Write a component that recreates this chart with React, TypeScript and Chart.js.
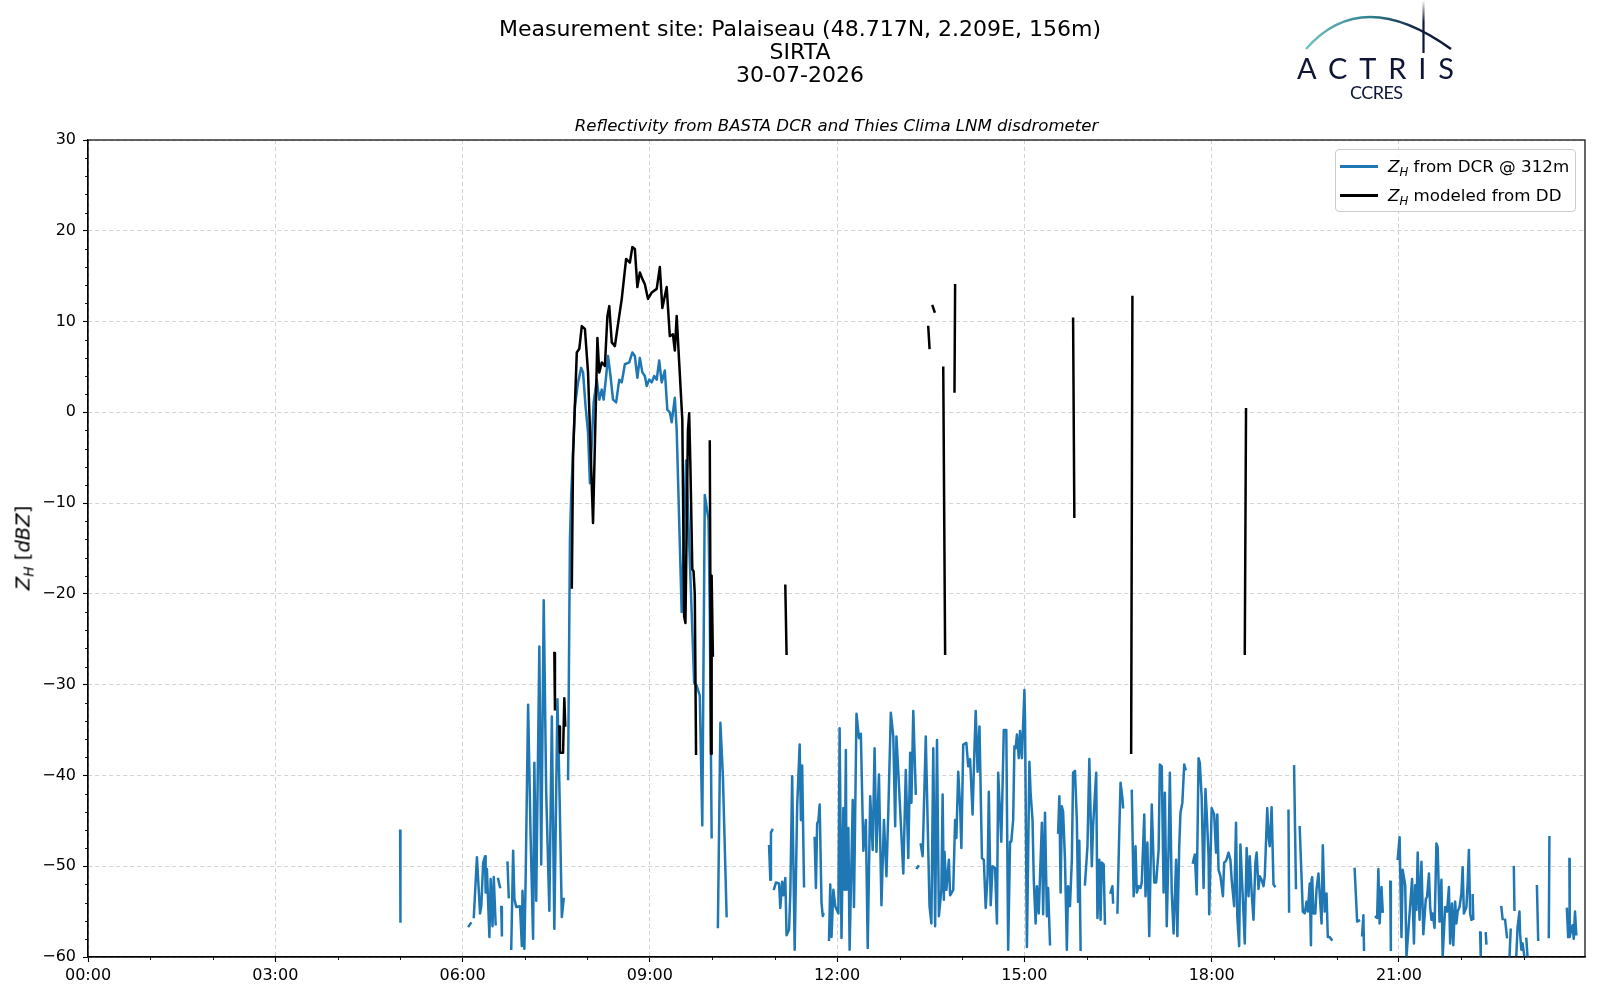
import { useEffect, useRef } from "react";
import { Chart, registerables } from "chart.js";

Chart.register(...registerables);

type Pt = [number, number] | null;
const GAP = null;

// Z_H from BASTA DCR @ 312m  ([hour of day, dBZ], GAP = missing data)
const dcrDawn: Pt[] = [
  [5.0, -46.1], [5.005, -56.1], GAP,
  [6.1, -56.6], [6.13, -56.3], GAP,
  [6.18, -55.6], [6.23, -49], [6.28, -55.2], [6.3, -54.4], [6.33, -49.6], [6.36, -48.9], [6.37, -52.9],
  [6.39, -50.3], [6.43, -57.8], [6.45, -51.4], [6.48, -56.6], [6.5, -51.2], [6.53, -56.4], GAP,
  [6.57, -51.4], [6.6, -52.3], GAP,
  [6.62, -54.5], [6.63, -57.6], GAP,
  [6.72, -49.6], [6.74, -53.4], GAP,
  [6.78, -59.1], [6.81, -48.3], [6.83, -53.6], [6.86, -54.5], [6.92, -54.4], [6.95, -58.8], [6.96, -52.7],
  [6.99, -59.1], [7.01, -51.6], [7.05, -32.2], [7.09, -46.7], [7.13, -58], [7.15, -38.6], [7.18, -53.8],
  [7.23, -25.8], [7.26, -49.8], [7.3, -20.7], [7.34, -41.9], [7.39, -54.9], [7.43, -33.5], [7.47, -56.9],
  [7.52, -31.6], [7.55, -40.8], [7.59, -55.6], [7.62, -53.6], GAP,
];

const dcrRain: Pt[] = [
  [7.69, -40.4], [7.72, -14], [7.74, -9.2], [7.8, 0.7], [7.85, 3.3], [7.9, 4.9], [7.93, 4.4], [7.97, 0.7],
  [8.01, -2.2], [8.04, -7.8], [8.1, 1.1], [8.15, 3.6], [8.19, 1.4], [8.23, 2.5], [8.26, 1.4], [8.3, 4],
  [8.33, 6.2], [8.37, 4], [8.41, 1.4], [8.46, 1.1], [8.51, 3.6], [8.55, 3.3], [8.6, 5.3], [8.67, 5.5],
  [8.72, 6.6], [8.76, 6.2], [8.8, 3.8], [8.84, 6], [8.88, 4.4], [8.92, 4], [8.95, 2.9], [8.99, 3.6],
  [9.03, 3.3], [9.07, 4], [9.11, 3.6], [9.15, 5.7], [9.19, 3.3], [9.24, 4.6], [9.28, 0.3], [9.32, 0],
  [9.35, -1.1], [9.4, 1.6], [9.43, -1.9], [9.51, -22], [9.58, -5.3], [9.61, -10.5], [9.67, -22],
  [9.71, -29.8], [9.75, -30.1], [9.8, -31.2], [9.84, -45.5], [9.88, -9.1], [9.94, -11.8], [9.96, -22],
  [9.99, -46.8], GAP,
  [10.09, -56.7], [10.13, -34.2], [10.17, -40], [10.23, -55.5], GAP,
];

const dcrLateMorning: Pt[] = [
  [10.91, -47.8], [10.93, -51.5], [10.94, -46.3], [10.96, -46], GAP,
  [10.99, -52.5], [11.02, -51.8], [11.07, -51.9], [11.09, -54.6], [11.12, -51.7], [11.14, -53.2],
  [11.17, -51.3], [11.19, -57.6], [11.23, -57], [11.25, -53], [11.28, -40.1], [11.3, -50], [11.32, -59.2],
  [11.36, -43.4], [11.4, -36.6], [11.42, -44.9], [11.44, -38.9], [11.47, -52.2], GAP,
  [11.64, -46.9], [11.66, -52.4], [11.68, -45.3], [11.7, -45], [11.72, -43.2], [11.75, -54], [11.77, -55.5],
  [11.78, -55.3], GAP,
  [11.87, -58.1], [11.89, -52], [11.91, -57.8], [11.94, -52.6], [11.97, -54.4], [12.02, -55.2], [12.04, -34.8],
  [12.07, -57.9], [12.1, -43.6], [12.12, -52.6], [12.14, -37.2], [12.15, -52.6], [12.18, -45.8], [12.2, -59.2],
  [12.25, -42.7], [12.27, -54.5], [12.31, -33.2], [12.35, -35.9], [12.38, -35.4], [12.42, -48.3], [12.46, -44.9],
  [12.49, -59], [12.53, -42.3], [12.57, -48.2], [12.6, -37], [12.63, -48.4], [12.67, -39.9], [12.71, -54.3],
  [12.75, -44.9], [12.79, -51.1], [12.82, -44], [12.86, -33.1], [12.9, -35.7], [12.93, -45.6], [12.95, -35.7],
  [12.98, -39.6], [13.06, -50.8], [13.1, -39.4], [13.14, -49.1], [13.17, -37.5], [13.19, -43], [13.22, -32.9],
  [13.26, -42], GAP,
  [13.28, -50.2], [13.3, -50], GAP,
];

const dcrAfternoon: Pt[] = [
  [13.34, -47.6], [13.37, -48.9], [13.42, -35.7], [13.48, -54.4], [13.51, -56.3], [13.54, -37], [13.57, -56.6],
  [13.6, -36.1], [13.63, -55.5], [13.67, -52.6], [13.69, -42.1], [13.71, -53.7], [13.72, -48.4], [13.75, -52.6],
  [13.79, -49.3], [13.81, -53.2], [13.86, -52.6], [13.89, -44.9], [13.91, -46.9], [13.94, -39.6], [13.97, -43.4],
  [13.99, -48], [14.02, -36.6], [14.07, -36.4], [14.1, -39], [14.13, -38.2], [14.17, -44.3], [14.2, -37],
  [14.22, -32.9], [14.25, -39.6], [14.28, -34.6], [14.32, -49.1], [14.35, -49.3], [14.38, -54.6], [14.41, -51.1],
  [14.43, -41.8], [14.46, -54.3], [14.49, -50], [14.53, -50.2], [14.56, -56.3], [14.58, -39.7], [14.63, -47.3],
  [14.67, -35], [14.71, -35], [14.74, -59.2], [14.77, -47.3], [14.79, -47.3], [14.82, -44.9], [14.84, -36.8],
  [14.86, -37], [14.88, -35.5], [14.91, -38.1], [14.93, -35.1], [14.96, -38.1], [15.0, -30.6], [15.01, -33.9],
  [15.04, -58.9], [15.08, -38.5], [15.1, -42], [15.13, -44.9], [15.15, -51.5], [15.18, -56.3], [15.2, -52.2],
  [15.23, -55.2], [15.28, -45.2], [15.3, -55.3], [15.33, -44.1], [15.36, -55.5], [15.38, -52.4], [15.41, -58.6], GAP,
  [15.54, -46.3], [15.56, -42.3], [15.58, -52.9], [15.6, -43.4], [15.62, -44], [15.65, -49.3], [15.68, -59.2],
  [15.7, -52.2], [15.73, -54.4], [15.76, -49.3], [15.78, -39.7], [15.81, -39.5], [15.84, -44.9], [15.86, -53.9],
  [15.88, -47.2], [15.9, -59.2], GAP,
  [15.97, -52], [16.01, -47.8], [16.04, -38.2], [16.08, -50], [16.1, -45.6], [16.15, -39.7], [16.17, -55.7],
  [16.2, -49.3], [16.22, -55.9], [16.24, -49.6], [16.27, -49.8], [16.29, -56.3], GAP,
  [16.38, -52.9], [16.41, -52.2], [16.42, -54], GAP,
  [16.49, -55.1], [16.52, -46.1], [16.54, -40.8], [16.57, -42.5], [16.58, -43.5], GAP,
];

const dcrEvening: Pt[] = [
  [16.72, -41.7], [16.75, -53.3], [16.78, -47.8], [16.8, -52.9], [16.83, -52.2], [16.86, -52.4], [16.88, -51.8],
  [16.92, -44.3], [16.94, -53.3], [16.97, -47.4], [17.0, -57.7], [17.04, -43.2], [17.08, -51.8], [17.11, -51.8],
  [17.15, -48.2], [17.17, -38.8], [17.2, -39], [17.23, -52.9], [17.25, -41.9], [17.28, -56.6], [17.31, -47.8],
  [17.33, -39.7], [17.36, -52.9], [17.39, -57.4], [17.43, -49.3], [17.45, -57.7], [17.48, -47.8], [17.5, -44.1],
  [17.53, -43], [17.56, -38.8], [17.58, -39.3], GAP,
  [17.7, -49.6], [17.73, -48.7], [17.76, -53.1], [17.79, -38.1], [17.81, -38.6], [17.84, -42.5], [17.87, -52.4],
  [17.9, -41.5], [17.92, -44.1], [17.95, -48.9], [17.96, -55.3], [18.0, -43.6], [18.04, -44.3], [18.07, -48.5],
  [18.09, -44.3], [18.11, -50.4], [18.14, -51.1], [18.18, -53.3], [18.2, -49.6], [18.23, -49.4], [18.27, -48.5],
  [18.3, -49.3], [18.32, -51.5], [18.36, -54.4], [18.39, -45.2], [18.41, -55.5], [18.44, -58.8], [18.46, -47.6],
  [18.5, -53.7], [18.53, -58.5], [18.56, -48], [18.59, -53.3], [18.61, -48.9], [18.64, -52.9], [18.67, -55.9],
  [18.7, -49.6], [18.72, -48.5], [18.75, -52.5], [18.77, -51.1], [18.8, -51.5], [18.83, -52.2], [18.85, -51.1],
  [18.89, -43.6], [18.91, -46.7], [18.93, -47.8], [18.96, -43.5], [18.99, -52], [19.01, -52.2], GAP,
  [19.23, -43.9], [19.24, -55], GAP,
  [19.32, -39], [19.35, -52.4], GAP,
  [19.41, -45.7], [19.46, -55], [19.49, -55.2], [19.52, -53.9], [19.54, -55], [19.57, -51.9], [19.59, -58.7],
  [19.6, -51.5], [19.61, -51.2], [19.63, -55.2], [19.66, -55.2], [19.68, -52.5], [19.71, -50.8], [19.76, -56.3],
  [19.78, -47.7], [19.81, -55], [19.84, -53], [19.86, -57.8], [19.89, -57.8], [19.92, -58.1], GAP,
];

const dcrNight: Pt[] = [
  [20.29, -50.3], [20.33, -56.1], [20.36, -56], GAP,
  [20.41, -57.6], [20.43, -55.4], [20.44, -59.2], GAP,
  [20.63, -55.6], [20.65, -55.7], [20.67, -50.3], [20.69, -56.3], [20.72, -52.3], [20.74, -55], GAP,
  [20.86, -51.7], [20.87, -59.2], GAP,
  [20.98, -49.2], [21.01, -46.8], [21.04, -57.8], [21.06, -50.4], [21.1, -52.1], [21.12, -60], [21.21, -51.4],
  [21.24, -58.5], [21.26, -52.1], [21.28, -54.8], [21.3, -48.5], [21.33, -55.9], [21.36, -49.5], [21.39, -57.5],
  [21.43, -53.6], [21.45, -53.4], [21.48, -50.8], [21.5, -54.5], [21.52, -55.9], [21.54, -55.2], [21.57, -56.8],
  [21.6, -47.5], [21.62, -47.9], [21.65, -56.1], [21.68, -51.5], [21.7, -60], [21.74, -54.5], [21.77, -55],
  [21.8, -52.3], [21.82, -58.5], [21.85, -54.1], [21.87, -58.7], [21.9, -53.9], [21.92, -56.3], [21.94, -55],
  [21.97, -54.5], [22.0, -53], [22.02, -50.1], [22.04, -55.2], [22.08, -54.5], [22.1, -51.9], [22.12, -48.2],
  [22.14, -55.2], [22.16, -55.9], GAP,
  [22.18, -53.2], [22.19, -55.8], GAP,
  [22.3, -57.3], [22.31, -60], GAP,
  [22.39, -57.4], [22.4, -58.5], GAP,
  [22.64, -54.5], [22.66, -55.8], GAP,
  [22.7, -55.9], [22.73, -57.8], GAP,
  [22.77, -60], [22.79, -57], GAP,
  [22.84, -50.1], [22.85, -54.8], GAP,
  [22.88, -59.8], [22.9, -56.7], [22.93, -55], [22.94, -57.4], [22.96, -59.2], [22.98, -58.5], [23.01, -60], GAP,
  [23.04, -58], [23.06, -60], GAP,
  [23.21, -52.2], [23.23, -58.1], GAP,
  [23.4, -57.8], [23.41, -46.8], GAP,
  [23.69, -54.7], [23.71, -57.8], GAP,
  [23.73, -49.2], [23.735, -57.8], [23.76, -57], [23.78, -56.5], [23.8, -58], [23.82, -55], [23.84, -57.5],
];

// Z_H modeled from the Thies Clima LNM disdrometer
const ddRain: Pt[] = [
  [7.47, -26.5], [7.48, -32.7], GAP,
  [7.55, -34.6], [7.56, -37.5], [7.61, -37.5], [7.63, -31.5], [7.645, -34.5], GAP,
  [7.75, -19.3], [7.77, -4.8], [7.83, 6.6], [7.87, 7.0], [7.91, 9.5], [7.96, 9.2], [8.01, 4.4], [8.09, -12.2],
  [8.16, 8.2], [8.19, 4.4], [8.23, 5.5], [8.28, 5.1], [8.32, 10.6], [8.35, 11.7], [8.39, 7.7], [8.44, 7.3],
  [8.49, 9.7], [8.55, 12.5], [8.62, 16.9], [8.68, 16.5], [8.72, 18.2], [8.76, 18.0], [8.8, 13.8], [8.84, 15.4],
  [8.88, 14.7], [8.92, 14.1], [8.97, 12.5], [9.03, 13.2], [9.11, 13.6], [9.16, 16.0], [9.2, 11.5], [9.27, 13.8],
  [9.32, 8.4], [9.37, 8.6], [9.4, 6.8], [9.43, 10.6], [9.47, 5.5], [9.52, -0.8], [9.55, -22.5], [9.57, -23.2],
  [9.61, -2], [9.63, -0.1], [9.65, -6], [9.68, -17.3], [9.7, -17.5], [9.72, -20], [9.74, -37.6], GAP,
  [9.96, -3.2], [9.98, -37.6], [9.99, -18], [10.01, -26.8], GAP,
];

const ddShowers: Pt[] = [
  [11.17, -19.1], [11.19, -26.6], GAP,
  [13.46, 9.4], [13.48, 7.1], GAP,
  [13.53, 11.7], [13.56, 11.1], GAP,
  [13.7, 4.9], [13.73, -26.6], GAP,
  [13.89, 14.0], [13.88, 2.3], GAP,
  [15.78, 10.3], [15.8, -11.5], GAP,
  [16.73, 12.7], [16.71, -37.5], GAP,
  [18.55, 0.35], [18.53, -26.6],
];

const xTickHours = [0, 3, 6, 9, 12, 15, 18, 21];
const xTickLabels = ["00:00", "03:00", "06:00", "09:00", "12:00", "15:00", "18:00", "21:00"];
const yTickValues = [30, 20, 10, 0, -10, -20, -30, -40, -50, -60];
const xMin = 0;
const xMax = 23.98;
const yMin = -60;
const yMax = 30;
const xMinorStep = 1;
const yMinorStep = 2;

const titleLines = ["Measurement site: Palaiseau (48.717N, 2.209E, 156m)", "SIRTA", "30-07-2026"];
const subTitle = "Reflectivity from BASTA DCR and Thies Clima LNM disdrometer";
const dcrLabel = " from DCR @ 312m";
const ddLabel = " modeled from DD";

const dcrColor = "#1f77b4";
const ddColor = "#000000";
const LINE_W = 2.5;
const FONT = "'DejaVu Sans', sans-serif";

function toPoints(...parts: Pt[][]) {
  const out: { x: number; y: number | null }[] = [];
  let last = 0;
  for (const part of parts) {
    for (const p of part) {
      if (p === null) {
        out.push({ x: last, y: null });
        continue;
      }
      last = p[0];
      out.push({ x: p[0], y: p[1] });
    }
  }
  return out;
}

// minor ticks + full box around the axes (matplotlib style)
const axesDecor = {
  id: "axesDecor",
  afterDraw(chart: any) {
    const { ctx, chartArea, scales } = chart;
    const { left, right, top, bottom } = chartArea;
    ctx.save();
    ctx.strokeStyle = "#000";
    ctx.lineWidth = 0.9;
    ctx.beginPath();
    for (let h = xMin; h <= xMax; h += xMinorStep) {
      if (xTickHours.includes(h)) continue;
      const px = Math.round(scales.x.getPixelForValue(h)) + 0.5;
      ctx.moveTo(px, bottom);
      ctx.lineTo(px, bottom + 3);
    }
    for (let v = yMin; v <= yMax; v += yMinorStep) {
      if (yTickValues.includes(v)) continue;
      const py = Math.round(scales.y.getPixelForValue(v)) + 0.5;
      ctx.moveTo(left, py);
      ctx.lineTo(left - 3, py);
    }
    ctx.stroke();
    ctx.lineWidth = 1.2;
    ctx.strokeRect(left, top, right - left, bottom - top);
    ctx.restore();
  },
};

function ZH() {
  return (
    <>
      <i>Z</i>
      <i style={{ fontSize: "0.7em", position: "relative", top: "0.3em" }}>H</i>
    </>
  );
}

export default function App() {
  const canvasRef = useRef<HTMLCanvasElement | null>(null);

  useEffect(() => {
    if (!canvasRef.current) return;
    const gridOpts = {
      color: "#d3d3d3",
      lineWidth: 1,
      tickLength: 5,
      tickColor: "#000",
      tickWidth: 1.1,
      tickBorderDash: [],
    };
    const chart = new Chart(canvasRef.current, {
      type: "line",
      data: {
        datasets: [
          {
            label: "ZH modeled from DD",
            data: toPoints(ddRain, ddShowers),
            borderColor: ddColor,
            borderWidth: LINE_W,
            order: 0,
          },
          {
            label: "ZH from DCR @ 312m",
            data: toPoints(dcrDawn, dcrRain, dcrLateMorning, dcrAfternoon, dcrEvening, dcrNight),
            borderColor: dcrColor,
            borderWidth: LINE_W,
            order: 1,
          },
        ] as any,
      },
      plugins: [axesDecor],
      options: {
        responsive: false,
        maintainAspectRatio: false,
        animation: false,
        spanGaps: false,
        elements: {
          point: { radius: 0, hoverRadius: 0 },
          line: { tension: 0, fill: false, borderJoinStyle: "round", borderCapStyle: "square" },
        },
        datasets: { line: { clip: 0 } } as any,
        layout: { padding: { top: 140, right: 15, bottom: 13, left: 0 } },
        plugins: { legend: { display: false }, tooltip: { enabled: false }, title: { display: false } },
        scales: {
          x: {
            type: "linear",
            min: xMin,
            max: xMax,
            afterBuildTicks: (s: any) => {
              s.ticks = xTickHours.map((value) => ({ value }));
            },
            afterFit: (s: any) => {
              s.height = 30;
            },
            ticks: {
              autoSkip: false,
              maxRotation: 0,
              padding: 4,
              color: "#000",
              font: { family: FONT, size: 16 },
              callback: (_v: any, i: number) => xTickLabels[i],
            },
            grid: gridOpts,
            border: { display: true, color: "#000", width: 1.2, dash: [4, 3] },
          },
          y: {
            type: "linear",
            min: yMin,
            max: yMax,
            afterBuildTicks: (s: any) => {
              s.ticks = yTickValues.map((value) => ({ value }));
            },
            afterFit: (s: any) => {
              s.width = 88;
            },
            ticks: {
              autoSkip: false,
              padding: 7,
              color: "#000",
              font: { family: FONT, size: 16 },
              callback: (v: any) => String(v).replace("-", "\u2212"),
            },
            grid: gridOpts,
            border: { display: true, color: "#000", width: 1.2, dash: [4, 3] },
          },
        },
      } as any,
    });
    return () => chart.destroy();
  }, []);

  const legendRow = (color: string, top: number, text: string) => (
    <div style={{ position: "absolute", left: 0, top, height: 24, width: "100%" }}>
      <div style={{ position: "absolute", left: 4, top: 11, width: 38, height: LINE_W, background: color }} />
      <div style={{ position: "absolute", left: 52, top: 0, lineHeight: "24px", fontSize: 16.7, whiteSpace: "nowrap" }}>
        <ZH />
        {text}
      </div>
    </div>
  );

  return (
    <div
      style={{
        position: "absolute",
        left: 0,
        top: 0,
        width: 1600,
        height: 1000,
        background: "#fff",
        fontFamily: FONT,
        color: "#000",
        overflow: "hidden",
      }}
    >
      <canvas ref={canvasRef} width={1600} height={1000} style={{ position: "absolute", left: 0, top: 0, width: 1600, height: 1000 }} />

      <div style={{ position: "absolute", left: 0, top: 17, width: 1600, textAlign: "center", fontSize: 22, lineHeight: "23px" }}>
        {titleLines.map((t) => (
          <div key={t}>{t}</div>
        ))}
      </div>

      <div style={{ position: "absolute", left: 88, top: 116, width: 1497, textAlign: "center", fontSize: 16.6, lineHeight: "20px", fontStyle: "italic" }}>
        {subTitle}
      </div>

      <div
        style={{
          position: "absolute",
          left: 23,
          top: 548,
          transform: "translate(-50%, -50%) rotate(-90deg)",
          fontSize: 19.6,
          whiteSpace: "nowrap",
        }}
      >
        <ZH /> [<i>dBZ</i>]
      </div>

      <div
        style={{
          position: "absolute",
          left: 1335,
          top: 149,
          width: 241,
          height: 63,
          boxSizing: "border-box",
          border: "1px solid #cccccc",
          borderRadius: 4,
          background: "rgba(255,255,255,0.8)",
        }}
      >
        {legendRow(dcrColor, 4, dcrLabel)}
        {legendRow(ddColor, 33, ddLabel)}
      </div>

      <svg width={1600} height={120} style={{ position: "absolute", left: 0, top: 0 }}>
        <defs>
          <linearGradient id="arcGrad" x1="1306" y1="0" x2="1451" y2="0" gradientUnits="userSpaceOnUse">
            <stop offset="0" stopColor="#74c4c2" />
            <stop offset="0.45" stopColor="#2f7f8e" />
            <stop offset="0.75" stopColor="#142648" />
            <stop offset="1" stopColor="#0e1535" />
          </linearGradient>
          <linearGradient id="poleGrad" x1="0" y1="0" x2="0" y2="56" gradientUnits="userSpaceOnUse">
            <stop offset="0" stopColor="#0e1535" stopOpacity="0" />
            <stop offset="0.4" stopColor="#0e1535" stopOpacity="1" />
            <stop offset="1" stopColor="#0e1535" />
          </linearGradient>
        </defs>
        <path d="M1306 49 Q1362 -15 1451 49" fill="none" stroke="url(#arcGrad)" strokeWidth={2.6} />
        <line x1={1423.5} y1={1} x2={1423.5} y2={53} stroke="url(#poleGrad)" strokeWidth={2.2} />
        <text x={1297} y={78.5} fontFamily="Lato, 'Open Sans', sans-serif" fontSize={29} fill="#0e1535" textLength={157} lengthAdjust="spacing">
          ACTRIS
        </text>
        <text x={1350} y={99} fontFamily="Lato, 'Open Sans', sans-serif" fontSize={18} fill="#0e1535" textLength={53} lengthAdjust="spacing">
          CCRES
        </text>
      </svg>
    </div>
  );
}
